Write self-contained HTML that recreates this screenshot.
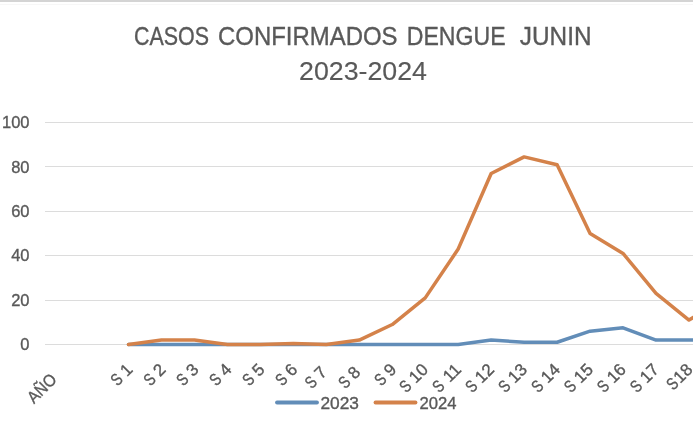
<!DOCTYPE html>
<html><head><meta charset="utf-8"><style>
html,body{margin:0;padding:0;background:#fff;width:693px;height:429px;overflow:hidden}
svg{display:block;will-change:transform;font-family:"Liberation Sans",sans-serif}
text{fill:#595959;stroke:#595959;stroke-width:0.35px}
</style></head><body>
<svg width="693" height="429" viewBox="0 0 693 429">
<rect x="0" y="0" width="693" height="2" fill="#d4d4d4"/><rect x="0" y="4" width="693" height="1" fill="#f7f7f7"/>
<g font-size="25" style="stroke-width:0.15px"><text x="134.00" y="44.5" textLength="75.00" lengthAdjust="spacingAndGlyphs">CASOS</text><text x="218.00" y="44.5" textLength="179.50" lengthAdjust="spacingAndGlyphs">CONFIRMADOS</text><text x="406.80" y="44.5" textLength="98.80" lengthAdjust="spacingAndGlyphs">DENGUE</text><text x="519.80" y="44.5" textLength="71.70" lengthAdjust="spacingAndGlyphs">JUNIN</text></g>
<text style="stroke-width:0.15px" x="363" y="79.5" text-anchor="middle" font-size="25" textLength="128" lengthAdjust="spacingAndGlyphs">2023-2024</text>
<line x1="45" y1="344.5" x2="693" y2="344.5" stroke="#dcdcdc" stroke-width="1"/>
<line x1="45" y1="300.5" x2="693" y2="300.5" stroke="#dcdcdc" stroke-width="1"/>
<line x1="45" y1="255.5" x2="693" y2="255.5" stroke="#dcdcdc" stroke-width="1"/>
<line x1="45" y1="211.5" x2="693" y2="211.5" stroke="#dcdcdc" stroke-width="1"/>
<line x1="45" y1="166.5" x2="693" y2="166.5" stroke="#dcdcdc" stroke-width="1"/>
<line x1="45" y1="122.5" x2="693" y2="122.5" stroke="#dcdcdc" stroke-width="1"/>
<g font-size="16.5">
<text x="29.5" y="350.10" text-anchor="end">0</text>
<text x="29.5" y="305.70" text-anchor="end">20</text>
<text x="29.5" y="261.30" text-anchor="end">40</text>
<text x="29.5" y="216.90" text-anchor="end">60</text>
<text x="29.5" y="172.50" text-anchor="end">80</text>
<text x="29.5" y="128.10" text-anchor="end">100</text>
</g>
<g font-size="17" style="word-spacing:0px">
<text transform="translate(57.76,380.50) rotate(-45)" text-anchor="end" textLength="33.5" lengthAdjust="spacingAndGlyphs">AÑO</text>
<g transform="translate(133.70,370.50) rotate(-45)"><text text-anchor="end">1</text><text x="-13.95" text-anchor="end" textLength="9.07" lengthAdjust="spacingAndGlyphs">S</text></g>
<g transform="translate(166.67,370.50) rotate(-45)"><text text-anchor="end">2</text><text x="-13.95" text-anchor="end" textLength="9.07" lengthAdjust="spacingAndGlyphs">S</text></g>
<g transform="translate(199.64,370.50) rotate(-45)"><text text-anchor="end">3</text><text x="-13.95" text-anchor="end" textLength="9.07" lengthAdjust="spacingAndGlyphs">S</text></g>
<g transform="translate(232.61,370.50) rotate(-45)"><text text-anchor="end">4</text><text x="-13.95" text-anchor="end" textLength="9.07" lengthAdjust="spacingAndGlyphs">S</text></g>
<g transform="translate(265.58,370.50) rotate(-45)"><text text-anchor="end">5</text><text x="-13.95" text-anchor="end" textLength="9.07" lengthAdjust="spacingAndGlyphs">S</text></g>
<g transform="translate(298.55,370.50) rotate(-45)"><text text-anchor="end">6</text><text x="-13.95" text-anchor="end" textLength="9.07" lengthAdjust="spacingAndGlyphs">S</text></g>
<g transform="translate(328.02,373.30) rotate(-45)"><text text-anchor="end">7</text><text x="-13.95" text-anchor="end" textLength="9.07" lengthAdjust="spacingAndGlyphs">S</text></g>
<g transform="translate(361.49,373.30) rotate(-45)"><text text-anchor="end">8</text><text x="-13.95" text-anchor="end" textLength="9.07" lengthAdjust="spacingAndGlyphs">S</text></g>
<g transform="translate(397.46,370.50) rotate(-45)"><text text-anchor="end">9</text><text x="-13.95" text-anchor="end" textLength="9.07" lengthAdjust="spacingAndGlyphs">S</text></g>
<g transform="translate(429.23,370.50) rotate(-45)"><text text-anchor="end">10</text><text x="-23.40" text-anchor="end" textLength="9.07" lengthAdjust="spacingAndGlyphs">S</text></g>
<g transform="translate(462.20,370.50) rotate(-45)"><text text-anchor="end">11</text><text x="-23.40" text-anchor="end" textLength="9.07" lengthAdjust="spacingAndGlyphs">S</text></g>
<g transform="translate(495.17,370.50) rotate(-45)"><text text-anchor="end">12</text><text x="-23.40" text-anchor="end" textLength="9.07" lengthAdjust="spacingAndGlyphs">S</text></g>
<g transform="translate(528.14,370.50) rotate(-45)"><text text-anchor="end">13</text><text x="-23.40" text-anchor="end" textLength="9.07" lengthAdjust="spacingAndGlyphs">S</text></g>
<g transform="translate(561.11,370.50) rotate(-45)"><text text-anchor="end">14</text><text x="-23.40" text-anchor="end" textLength="9.07" lengthAdjust="spacingAndGlyphs">S</text></g>
<g transform="translate(594.08,370.50) rotate(-45)"><text text-anchor="end">15</text><text x="-23.40" text-anchor="end" textLength="9.07" lengthAdjust="spacingAndGlyphs">S</text></g>
<g transform="translate(627.05,370.50) rotate(-45)"><text text-anchor="end">16</text><text x="-23.40" text-anchor="end" textLength="9.07" lengthAdjust="spacingAndGlyphs">S</text></g>
<g transform="translate(660.02,370.50) rotate(-45)"><text text-anchor="end">17</text><text x="-23.40" text-anchor="end" textLength="9.07" lengthAdjust="spacingAndGlyphs">S</text></g>
<g transform="translate(693.69,370.60) rotate(-45)"><text text-anchor="end">18</text><text x="-19.90" text-anchor="end" textLength="9.07" lengthAdjust="spacingAndGlyphs">S</text></g>
</g>
<polyline points="128.50,344.50 161.47,344.50 194.44,344.50 227.41,344.50 260.38,344.50 293.35,344.50 326.32,344.50 359.29,344.50 392.26,344.50 425.23,344.50 458.20,344.50 491.17,340.06 524.14,342.28 557.11,342.28 590.08,331.18 623.05,327.85 656.02,340.06 688.99,340.06 721.96,340.06" fill="none" stroke="#628db8" stroke-width="3.5" stroke-linejoin="round" stroke-linecap="round"/>
<polyline points="128.50,344.50 161.47,340.06 194.44,340.06 227.41,344.50 260.38,344.50 293.35,343.61 326.32,344.50 359.29,340.06 392.26,324.52 425.23,297.88 458.20,249.04 491.17,173.56 524.14,156.91 557.11,164.68 590.08,233.50 623.05,253.48 656.02,293.44 688.99,320.08 721.96,300.10" fill="none" stroke="#d4824a" stroke-width="3.5" stroke-linejoin="round" stroke-linecap="round"/>
<line x1="277" y1="402.5" x2="317" y2="402.5" stroke="#628db8" stroke-width="3.8" stroke-linecap="round"/>
<text x="320.5" y="408.8" font-size="17" textLength="38.5" lengthAdjust="spacingAndGlyphs">2023</text>
<line x1="375.5" y1="402.5" x2="415.5" y2="402.5" stroke="#d4824a" stroke-width="3.8" stroke-linecap="round"/>
<text x="419.5" y="408.8" font-size="17" textLength="37" lengthAdjust="spacingAndGlyphs">2024</text>
</svg>
</body></html>
